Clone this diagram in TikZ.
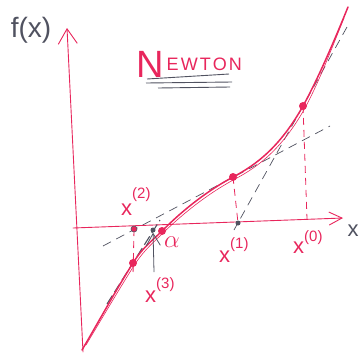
\documentclass[tikz,border=0pt]{standalone}
\usepackage{fontspec}
\setmainfont{Liberation Sans}
\usetikzlibrary{arrows.meta}
\definecolor{pen}{RGB}{232,38,92}
\definecolor{pencil}{RGB}{80,82,96}
\tikzset{
  redline/.style={draw=pen, line width=0.9pt, line cap=round},
  tangent/.style={draw=pencil, line width=0.7pt, dash pattern=on 9pt off 6pt},
  drop/.style={draw=pen, line width=0.8pt, dash pattern=on 7pt off 5pt},
  reddot/.style={circle, fill=pen, inner sep=0pt, minimum size=8pt},
  smalldot/.style={circle, fill=pencil, inner sep=0pt, minimum size=5pt},
  lbl/.style={text=pen, inner sep=0pt, anchor=base west, font=\fontsize{22}{22}\selectfont},
  barb/.style={-{Straight Barb[length=12pt,width=14pt]}},
  curvepen/.style={draw=pen, line cap=round, line join=round}
}
\newcommand{\supr}[2]{\raisebox{#1}{\fontsize{15}{15}\selectfont(#2)}}
\begin{document}
\begin{tikzpicture}[x=1pt,y=-1pt]
\useasboundingbox (0,0) rectangle (361,354);
% axes
\coordinate (ybot) at (83,352);
\coordinate (ytop) at (67,28);
\coordinate (xleft) at (73,228);
\coordinate (xright) at (343,218);
\draw[redline, -{Straight Barb[length=15pt,width=19pt]}] (ybot) -- (ytop);
\draw[redline, -{Straight Barb[length=13pt,width=13pt]}] (xleft) -- (xright);
\node[text=pencil, font=\fontsize{28}{28}\selectfont, inner sep=0pt] (fx) at (31,30) {f(x)};
\node[text=pencil, font=\fontsize{22}{22}\selectfont, inner sep=0pt] (xlab) at (353,231) {x};
% title
\node[text=pen, inner sep=0pt, anchor=base west, font=\fontsize{38}{38}\selectfont] (title) at (136,77)
  {N\hspace{3pt}\raisebox{7pt}{\fontsize{18}{18}\selectfont\addfontfeature{LetterSpace=12}EWTON}};
\coordinate (u1a) at (147,79); \coordinate (u1b) at (229,74);
\coordinate (u2a) at (146,83); \coordinate (u2b) at (232,82);
\coordinate (u3a) at (158,88); \coordinate (u3b) at (230,87);
\draw[pencil, line width=0.9pt] (u1a) -- (u1b);
\draw[pencil, line width=0.9pt] (u2a) -- (u2b);
\draw[pencil, line width=0.9pt] (u3a) -- (u3b);
% points
\coordinate (P0) at (303,106);
\coordinate (P1) at (233,177);
\coordinate (P2) at (133,263);
\coordinate (Pa) at (162,231);
\coordinate (X0) at (307,219);
\coordinate (X1) at (238,223);
\coordinate (X2) at (134,229);
\coordinate (X3) at (153,230);
\coordinate (cbot) at (82,350);
\coordinate (ctop) at (348,7);
% tangents
\coordinate (t0a) at (347,27); \coordinate (t0b) at (234,230);
\coordinate (t1a) at (103,246); \coordinate (t1b) at (330,126);
\coordinate (t2a) at (107,304); \coordinate (t2b) at (160,220);
\draw[tangent] (t0a) -- (t0b);
\draw[tangent] (t1a) -- (t1b);
\draw[tangent, line width=1.1pt, dash pattern=on 10pt off 4pt] (t2a) -- (t2b);
% drops
\draw[drop] (P0) -- (X0);
\draw[drop] (P1) -- (X1);
\draw[drop] (X2) -- (133,276);
% curve
\draw[curvepen, line width=1.5pt] (cbot) .. controls (99,321) and (116,290) .. (P2)
  .. controls (143,247) and (152,241) .. (Pa)
  .. controls (186,207) and (209,190) .. (P1)
  .. controls (256,165) and (280,147) .. (P0)
  .. controls (318,79) and (335,39) .. (ctop);
\draw[curvepen, line width=0.6pt] (86,345) .. controls (101,320) and (118,291) .. (135,264)
  .. controls (145,249) and (154,242) .. (164,232)
  .. controls (188,209) and (211,192) .. (235,179)
  .. controls (258,167) and (282,149) .. (305,108)
  .. controls (320,80) and (333,45) .. (344,18);
% dots
\node[reddot] (d0) at (P0) {};
\node[reddot] (d1) at (P1) {};
\node[reddot] (d2) at (P2) {};
\node[reddot] (da) at (Pa) {};
\node[smalldot] (dx1) at (X1) {};
\node[smalldot] (dx3) at (X3) {};
\node[circle, fill=pen, draw=pencil, line width=0.6pt, inner sep=0pt, minimum size=6pt] (dx2) at (X2) {};
% labels
\node[lbl] (l2) at (121,215) {x\supr{17pt}{2}};
\node[lbl] (l3) at (145,302) {x\supr{14pt}{3}};
\node[lbl] (l1) at (219,262) {x\supr{14pt}{1}};
\node[lbl] (l0) at (293,253) {x\supr{12pt}{0}};
\node[text=pen, inner sep=0pt, font=\fontsize{26}{26}\selectfont] (alpha) at (172,242) {$\alpha$};
% arrow to x3
\coordinate (ar) at (154,272);
\draw[pencil, line width=0.8pt, barb] (ar) -- (dx3);
\end{tikzpicture}
\end{document}
